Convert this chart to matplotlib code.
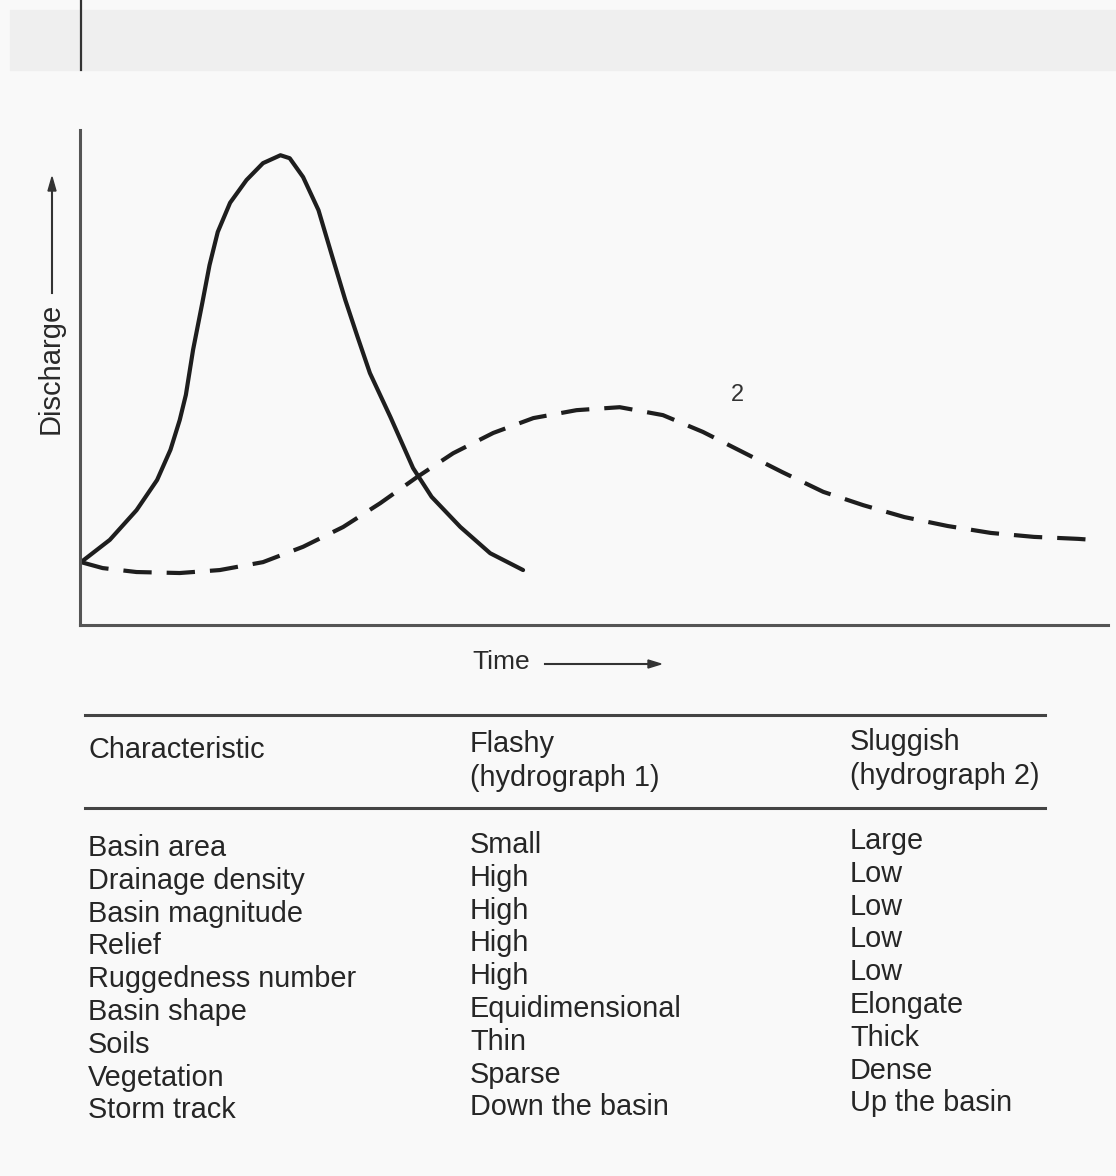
import matplotlib.pyplot as plt
import numpy as np

plt.rcParams['font.family'] = ['Liberation Sans', 'DejaVu Sans']

# hydrograph 1 (flashy), time/discharge in 0-100 units
t1 = [0.1, 2.9, 5.5, 7.5, 8.8, 9.7, 10.3, 11.0, 11.9, 12.6, 13.4, 14.6, 16.2,
      17.8, 19.5, 20.4, 21.7, 23.2, 24.5, 25.8, 27.0, 28.2, 30.2, 32.4, 34.2,
      37.0, 39.9, 43.1]
q1 = [12.7, 17.2, 23.2, 29.3, 35.4, 41.4, 46.5, 55.6, 65.1, 72.7, 79.4, 85.3,
      89.9, 93.3, 94.9, 94.3, 90.5, 83.8, 74.7, 65.7, 58.2, 50.9, 42.0, 31.7,
      25.9, 19.8, 14.5, 11.1]

# hydrograph 2 (sluggish)
t2 = [0.1, 2.2, 5.5, 9.7, 13.6, 17.8, 21.7, 25.6, 29.2, 32.8, 36.3, 40.2, 44.1,
      48.3, 52.5, 56.7, 60.6, 64.5, 68.3, 72.3, 76.2, 80.2, 84.4, 88.6, 92.8,
      97.1, 98.5]
q2 = [12.7, 11.5, 10.7, 10.5, 11.1, 12.7, 15.8, 19.8, 24.6, 29.9, 34.7, 38.8,
      41.8, 43.4, 44.0, 42.4, 39.0, 34.9, 30.9, 26.9, 24.2, 21.8, 20.0, 18.6,
      17.8, 17.4, 17.2]

header = ['Characteristic', 'Flashy\n(hydrograph 1)', 'Sluggish\n(hydrograph 2)']
characteristics = ['Basin area', 'Drainage density', 'Basin magnitude', 'Relief',
                   'Ruggedness number', 'Basin shape', 'Soils', 'Vegetation',
                   'Storm track']
flashy = ['Small', 'High', 'High', 'High', 'High', 'Equidimensional', 'Thin',
          'Sparse', 'Down the basin']
sluggish = ['Large', 'Low', 'Low', 'Low', 'Low', 'Elongate', 'Thick', 'Dense',
            'Up the basin']

W, H = 1116, 1176
fig = plt.figure(figsize=(W / 100, H / 100), dpi=100)
fig.patch.set_facecolor('#f9f9f9')


def fx(px):
    return px / W


def fy(py):
    return 1 - py / H


# scanned page strip at the top
fig.patches.append(plt.Rectangle((fx(10), fy(70)), fx(1106), 60 / H,
                                 transform=fig.transFigure, color='#efefef', zorder=0))
fig.add_artist(plt.Line2D([fx(81), fx(81)], [fy(0), fy(70)], color='#333333', lw=1.6))

ax = fig.add_axes([fx(80), fy(625), fx(1108) - fx(80), fy(130) - fy(625)])
ax.set_facecolor('none')
ax.plot(t1, q1, color='#1e1e1e', lw=3.0, solid_capstyle='round', solid_joinstyle='round')
ax.plot(t2, q2, color='#1e1e1e', lw=3.0, dashes=(6.8, 3.6), dash_joinstyle='round')
ax.text(64.0, 46.5, '2', fontsize=17, color='#333333', ha='center', va='center')
ax.set_xlim(0, 100)
ax.set_ylim(0, 100)
ax.set_xticks([])
ax.set_yticks([])
for s in ['top', 'right']:
    ax.spines[s].set_visible(False)
for s in ['left', 'bottom']:
    ax.spines[s].set_color('#555555')
    ax.spines[s].set_linewidth(2.2)

txt = dict(color='#2a2a2a')
fig.text(fx(51), fy(368), 'Discharge', rotation=90, ha='center', va='center',
         fontsize=21, **txt)
fig.add_artist(plt.Line2D([fx(52), fx(52)], [fy(293), fy(190)], color='#333333', lw=1.5))
fig.patches.append(plt.Polygon([[fx(52), fy(177)], [fx(48), fy(191)], [fx(56), fy(191)]],
                               closed=True, transform=fig.transFigure, color='#333333'))

fig.text(fx(501), fy(662), 'Time', ha='center', va='center', fontsize=19, **txt)
fig.add_artist(plt.Line2D([fx(545), fx(650)], [fy(664), fy(664)], color='#333333', lw=1.5))
fig.patches.append(plt.Polygon([[fx(661), fy(664)], [fx(648), fy(660)], [fx(648), fy(668)]],
                               closed=True, transform=fig.transFigure, color='#333333'))

# table
for y in [715, 808]:
    fig.add_artist(plt.Line2D([fx(85), fx(1045)], [fy(y), fy(y)], color='#444444', lw=2.2))

cols = [88, 470, 850]
tab = dict(color='#262626', fontsize=20.8, va='center', ha='left', linespacing=1.3)
fig.text(fx(cols[0]), fy(750), header[0], **tab)
fig.text(fx(cols[1]), fy(761), header[1], **tab)
fig.text(fx(cols[2]), fy(759), header[2], **tab)

row_y = 848
for name, a, b in zip(characteristics, flashy, sluggish):
    fig.text(fx(cols[0]), fy(row_y), name, **tab)
    fig.text(fx(cols[1]), fy(row_y - 3), a, **tab)
    fig.text(fx(cols[2]), fy(row_y - 7), b, **tab)
    row_y += 32.8

plt.savefig('out.png', dpi=100, facecolor=fig.get_facecolor())
